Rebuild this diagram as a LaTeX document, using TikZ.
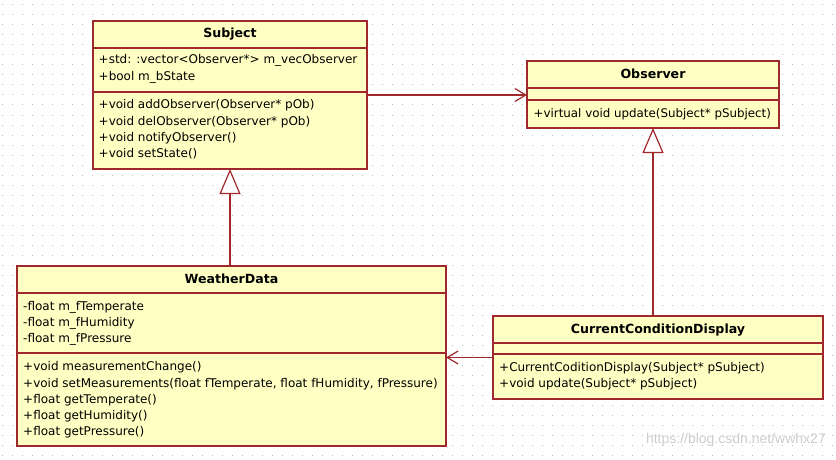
\documentclass[tikz,border=0pt]{standalone}
\usepackage{fontspec}
\setmainfont{DejaVu Sans}
\newfontfamily\wmfont{Liberation Sans}
\usetikzlibrary{arrows.meta}
\definecolor{umlfill}{RGB}{255,255,196}
\definecolor{umlline}{RGB}{160,40,45}
\definecolor{dotcol}{RGB}{185,185,185}
\definecolor{wmcol}{RGB}{205,205,205}
\begin{document}
\begin{tikzpicture}[x=1pt,y=-1pt,
  classbox/.style={draw=umlline, fill=umlfill, line width=1.2pt, inner sep=0pt, outer sep=0pt, anchor=north west},
  sep/.style={draw=umlline, line width=1.2pt},
  ctitle/.style={font=\fontsize{12.6}{14}\selectfont\bfseries, inner sep=0pt},
  ctext/.style={font=\fontsize{12}{16.3}\selectfont, align=left, anchor=west, inner sep=0pt},
  conn/.style={draw=umlline, line width=1.2pt},
  gen/.style={conn, -{Triangle[open, length=25pt, width=21pt, fill=white]}},
  assoc/.style={conn, -{Straight Barb[length=11pt, width=13pt]}}
]
\useasboundingbox (0,0) rectangle (836,460);
\fill[white] (0,0) rectangle (836,460);
\foreach \y in {5,15,...,455}
  \draw[dotcol, line width=1pt, dash pattern=on 1pt off 9pt] (2.2,\y) -- (836,\y);

% Subject
\node[classbox, minimum width=274pt, minimum height=148pt] (subject) at (93,21) {};
\draw[sep] (93,48) -- (367,48);
\draw[sep] (93,92) -- (367,92);
\node[ctitle] (subjectT) at (230,34) {Subject};
\node[ctext] (subjectA) at (98.5,69) {+std: :vector<Observer*> m\_vecObserver\\+bool m\_bState};
\node[ctext] (subjectM) at (98.5,129.5) {+void addObserver(Observer* pOb)\\+void delObserver(Observer* pOb)\\+void notifyObserver()\\+void setState()};

% Observer
\node[classbox, minimum width=252pt, minimum height=67pt] (observer) at (527,61) {};
\draw[sep] (527,88) -- (779,88);
\draw[sep] (527,100) -- (779,100);
\node[ctitle] (observerT) at (653,74) {Observer};
\node[ctext, font=\fontsize{11.85}{16.3}\selectfont] (observerM) at (533.5,114) {+virtual void update(Subject* pSubject)};

% WeatherData
\node[classbox, minimum width=429pt, minimum height=180pt] (weather) at (17,266) {};
\draw[sep] (17,293) -- (446,293);
\draw[sep] (17,353) -- (446,353);
\node[ctitle] (weatherT) at (231.5,279) {WeatherData};
\node[ctext] (weatherA) at (23,323.3) {-float m\_fTemperate\\-float m\_fHumidity\\-float m\_fPressure};
\node[ctext] (weatherM) at (23,400) {+void measurementChange()\\+void setMeasurements(float fTemperate, float fHumidity, fPressure)\\+float getTemperate()\\+float getHumidity()\\+float getPressure()};

% CurrentConditionDisplay
\node[classbox, minimum width=330pt, minimum height=83pt] (ccd) at (493,316) {};
\draw[sep] (493,343) -- (823,343);
\draw[sep] (493,354) -- (823,354);
\node[ctitle] (ccdT) at (658,330) {CurrentConditionDisplay};
\node[ctext] (ccdM) at (499,376.5) {+CurrentCoditionDisplay(Subject* pSubject)\\+void update(Subject* pSubject)};

% connectors
\draw[assoc] (subject.east) -- (subject.east -| observer.west);
\draw[assoc] (ccd.west) -- (ccd.west -| weather.east);
\draw[gen] (subject.south |- weather.north) -- (subject.south);
\draw[gen] (observer.south |- ccd.north) -- (observer.south);

% watermark
\node[font=\wmfont\fontsize{14}{14}\selectfont, text=wmcol, anchor=east, inner sep=0pt] (wm) at (826,440) {https://blog.csdn.net/wwhx27};
\end{tikzpicture}
\end{document}
